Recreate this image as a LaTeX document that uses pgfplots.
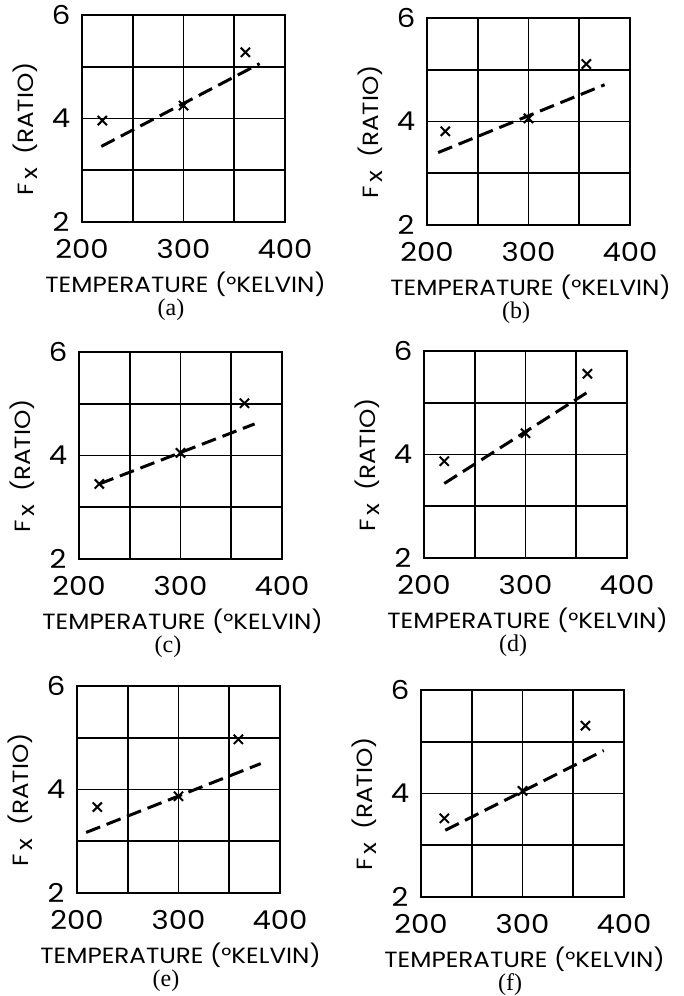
\documentclass[border=0pt]{standalone}
\usepackage{pgfplots}
\pgfplotsset{compat=1.18}
\usepackage{fontspec}
\newfontfamily\lab[FakeStretch=1.12]{Poppins}
\newfontfamily\capff{Liberation Serif}
\newcommand{\labfont}{\fontsize{22}{22}\selectfont\lab}
\newcommand{\tickfont}{\fontsize{26}{26}\selectfont\lab}
\newcommand{\capfont}{\fontsize{24}{24}\selectfont\capff}

\pgfplotsset{
  panel/.style={
    scale only axis, width=203pt, height=207pt,
    anchor=south west,
    xmin=200, xmax=400, ymin=2, ymax=6,
    xtick={200,300,400}, minor xtick={250,300,350},
    ytick={2,4,6}, minor ytick={3,4,5},
    xminorgrids=true, yminorgrids=true,
    xmajorgrids=false, ymajorgrids=false,
    minor grid style={black, line width=1.8pt},
    axis line style={line width=2.4pt},
    major tick length=0pt, minor tick length=0pt,
    tick label style={font=\tickfont},
    /pgf/number format/assume math mode=true,
    xticklabel style={anchor=center, yshift=-27pt},
    yticklabel style={anchor=center, xshift=-21pt},
    xlabel={TEMPERATURE (°KELVIN)},
    ylabel={F\,\raisebox{-0.35ex}{x}\; (RATIO)},
    every axis x label/.style={at={(axis description cs:0.51,-0.3)}, anchor=center, inner sep=0pt, font=\labfont},
    every axis y label/.style={at={(axis description cs:-0.28,0.45)}, rotate=90, anchor=center, inner sep=0pt, font=\labfont},
  },
  pts/.style={only marks, mark=x, mark size=6.5pt, mark options={line width=2pt}, black},
  fit/.style={no marks, black, line width=3pt, dash pattern=on 15pt off 7pt},
}
\tikzset{capnode/.style={inner sep=0pt, anchor=center, font=\capfont}}

\begin{document}
\begin{tikzpicture}
\path[use as bounding box] (0,0) rectangle (684pt,996pt);

% (a)
\begin{axis}[panel, at={(82pt,774pt)}, name=pa]
\addplot[fit] coordinates {(219,3.46) (375,5.06)};
\addplot[pts] coordinates {(220,3.96) (300,4.25) (361,5.28)};
\end{axis}
\node[capnode] at ([xshift=89pt, yshift=-88pt]pa.south west) {(a)};

% (b)
\begin{axis}[panel, at={(427pt,771pt)}, name=pb]
\addplot[fit] coordinates {(211,3.40) (375,4.71)};
\addplot[pts] coordinates {(218,3.81) (300,4.06) (357,5.11)};
\end{axis}
\node[capnode] at ([xshift=89pt, yshift=-88pt]pb.south west) {(b)};

% (c)
\begin{axis}[panel, at={(79pt,437pt)}, name=pc]
\addplot[fit] coordinates {(220,3.45) (373,4.61)};
\addplot[pts] coordinates {(220,3.45) (300,4.05) (363,5.01)};
\end{axis}
\node[capnode] at ([xshift=89pt, yshift=-88pt]pc.south west) {(c)};

% (d)
\begin{axis}[panel, at={(424pt,438pt)}, name=pd]
\addplot[fit] coordinates {(220,3.44) (360,5.19)};
\addplot[pts] coordinates {(220,3.87) (300,4.41) (361,5.56)};
\end{axis}
\node[capnode] at ([xshift=89pt, yshift=-88pt]pd.south west) {(d)};

% (e)
\begin{axis}[panel, at={(77pt,103pt)}, name=pe]
\addplot[fit] coordinates {(209,3.17) (381,4.50)};
\addplot[pts] coordinates {(220,3.66) (300,3.87) (359,4.97)};
\end{axis}
\node[capnode] at ([xshift=89pt, yshift=-88pt]pe.south west) {(e)};

% (f)
\begin{axis}[panel, at={(421pt,99pt)}, name=pf]
\addplot[fit] coordinates {(224,3.29) (380,4.83)};
\addplot[pts] coordinates {(223,3.52) (300,4.05) (362,5.31)};
\end{axis}
\node[capnode] at ([xshift=89pt, yshift=-88pt]pf.south west) {(f)};
\end{tikzpicture}
\end{document}
